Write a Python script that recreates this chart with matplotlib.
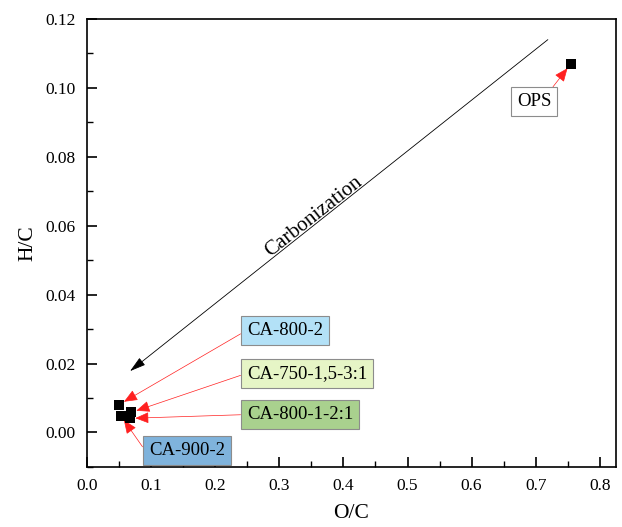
import matplotlib
matplotlib.use("Agg")
import matplotlib.pyplot as plt
from matplotlib.ticker import MultipleLocator

plt.rcParams['font.family'] = ['Liberation Serif', 'DejaVu Serif']

# data
labels = ["OPS", "CA-800-2", "CA-900-2", "CA-750-1,5-3:1", "CA-800-1-2:1"]
oc = [0.755, 0.050, 0.0525, 0.0686, 0.0666]
hc = [0.107, 0.0081, 0.0049, 0.0058, 0.0041]

# label placement (text anchor, left-center) and styling
label_pos = {
    "OPS": (0.671, 0.0960),
    "CA-800-2": (0.2495, 0.0297),
    "CA-750-1,5-3:1": (0.2495, 0.0172),
    "CA-800-1-2:1": (0.2495, 0.0052),
    "CA-900-2": (0.0965, -0.0051),
}
label_face = {
    "OPS": "#ffffff",
    "CA-800-2": "#b3e1f7",
    "CA-750-1,5-3:1": "#e6f5c6",
    "CA-800-1-2:1": "#a9d18e",
    "CA-900-2": "#7fb3dc",
}
label_relpos = {
    "OPS": (0.9, 1.0),
    "CA-800-2": (0.0, 0.5),
    "CA-750-1,5-3:1": (0.0, 0.5),
    "CA-800-1-2:1": (0.0, 0.5),
    "CA-900-2": (0.0, 0.15),
}

fig = plt.figure(figsize=(6.22, 5.27), dpi=100)
ax = fig.add_axes([0.140, 0.114, 0.850, 0.850])

ax.scatter(oc, hc, marker='s', s=55, color='black', zorder=5, linewidths=0)

for lab, x, y in zip(labels, oc, hc):
    tx, ty = label_pos[lab]
    ax.annotate(lab, xy=(x, y), xytext=(tx, ty), ha='left', va='center', fontsize=13.5,
                bbox=dict(boxstyle='square,pad=0.32', fc=label_face[lab], ec='#8c8c8c', lw=0.8),
                arrowprops=dict(arrowstyle='-|>,head_length=0.6,head_width=0.25', color='#ff2020', lw=0.5,
                                relpos=label_relpos[lab], shrinkA=0, shrinkB=4, mutation_scale=14),
                zorder=4)

# carbonization arrow
ax.annotate('', xy=(0.067, 0.0178), xytext=(0.719, 0.114),
            arrowprops=dict(arrowstyle='-|>,head_length=0.7,head_width=0.2', color='black', lw=0.6,
                            shrinkA=0, shrinkB=0, mutation_scale=14))
ax.text(0.3535, 0.0625, 'Carbonization', rotation=38.3, ha='center', va='center', fontsize=15,
        rotation_mode='anchor')

ax.set_xlim(0, 0.825)
ax.set_ylim(-0.01, 0.12)
ax.xaxis.set_major_locator(MultipleLocator(0.1))
ax.xaxis.set_minor_locator(MultipleLocator(0.05))
ax.yaxis.set_major_locator(MultipleLocator(0.02))
ax.yaxis.set_minor_locator(MultipleLocator(0.01))
ax.xaxis.set_major_formatter(plt.FuncFormatter(lambda v, p: f"{v:.1f}"))
ax.yaxis.set_major_formatter(plt.FuncFormatter(lambda v, p: f"{v:.2f}"))
ax.tick_params(which='major', direction='in', length=7, width=1.2, labelsize=12.5, pad=8)
ax.tick_params(which='minor', direction='in', length=4, width=1.0)
for sp in ax.spines.values():
    sp.set_linewidth(1.2)

ax.set_xlabel('O/C', fontsize=15.5, labelpad=7)
ax.set_ylabel('H/C', fontsize=15.5, labelpad=6)

fig.savefig('out.png', dpi=100)
